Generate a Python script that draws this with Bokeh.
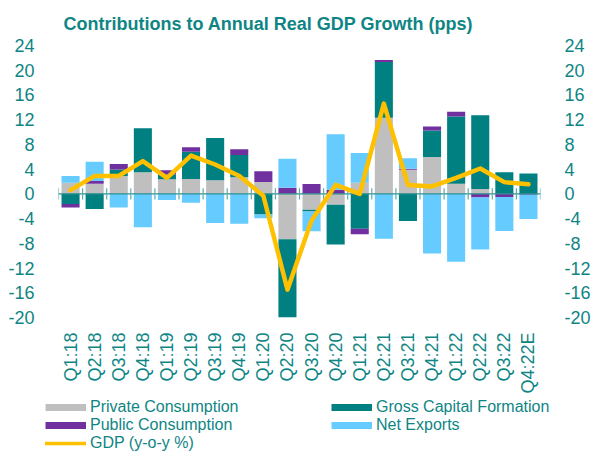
import math
import numpy as np
from bokeh.plotting import figure
from bokeh.layouts import column
from bokeh.models import (Range1d, LinearAxis, FixedTicker, Legend, LegendItem,
                          ColumnDataSource)
from bokeh.embed import file_html
from bokeh.resources import INLINE

# ---------------- data ----------------
quarters = ["Q1:18", "Q2:18", "Q3:18", "Q4:18", "Q1:19", "Q2:19", "Q3:19", "Q4:19",
            "Q1:20", "Q2:20", "Q3:20", "Q4:20", "Q1:21", "Q2:21", "Q3:21", "Q4:21",
            "Q1:22", "Q2:22", "Q3:22", "Q4:22E"]
private_consumption = [1.8, 1.65, 2.9, 3.5, 2.35, 2.4, 2.2, 2.7, 1.9, -7.35,
                       -2.55, -1.75, 1.8, 12.3, 3.9, 5.95, 1.65, 0.8, 0.0, 0.0]
gross_capital_formation = [-1.65, -2.45, 1.05, 7.1, 0.8, 4.4, 6.85, 3.6, -3.35, -12.65,
                           -0.3, -6.45, -5.65, 9.05, -4.4, 4.3, 10.85, 11.9, 3.5, 3.3]
public_consumption = [-0.55, 0.45, 0.9, 0.0, 0.65, 0.75, 0.0, 0.9, 1.75, 1.0,
                      1.6, 0.65, -0.9, 0.3, 0.15, 0.65, 0.8, -0.6, -0.5, -0.15]
net_exports = [1.1, 3.1, -2.2, -5.4, -1.0, -1.45, -4.7, -4.85, -0.6, 4.7,
               -3.2, 9.0, 4.8, -7.25, 1.7, -9.65, -11.0, -8.4, -5.5, -3.9]
gdp_yoy = [0.6, 2.9, 2.9, 5.3, 2.6, 6.2, 4.75, 2.9, -0.3, -15.5,
           -4.3, 1.45, 0.0, 14.6, 1.45, 1.2, 2.6, 4.1, 1.9, 1.55]
y_ticks = [-20, -16, -12, -8, -4, 0, 4, 8, 12, 16, 20, 24]
y_tick_labels = [str(t) for t in y_ticks]

series_names = ["Private Consumption", "Gross Capital Formation",
                "Public Consumption", "Net Exports"]
series_values = [private_consumption, gross_capital_formation,
                 public_consumption, net_exports]
gdp_name = "GDP (y-o-y %)"

# ---------------- style ----------------
TEXT = "#0E8584"
COLORS = ["#BFBFBF", "#008080", "#7030A0", "#66CCFF"]
GOLD = "#FFC000"
FONT = "Liberation Sans"

n = len(quarters)
xs = np.arange(n)

p = figure(width=593, height=396, output_backend="svg", toolbar_location=None,
           x_range=Range1d(-0.5, n - 0.5), y_range=Range1d(y_ticks[0], y_ticks[-1]),
           min_border_left=58, min_border_right=50, min_border_top=43,
           min_border_bottom=79)
p.background_fill_color = "white"
p.border_fill_color = "white"
p.outline_line_color = None
p.grid.visible = False

p.title.text = "Contributions to Annual Real GDP Growth (pps)"
p.title.text_font = FONT
p.title.text_font_size = "18px"
p.title.text_font_style = "bold"
p.title.text_color = TEXT
p.title.align = "left"
p.title.offset = 5
p.title.standoff = 23

# stacked bars (positives stack up, negatives stack down)
pos_base = np.zeros(n)
neg_base = np.zeros(n)
for name, vals, col in zip(series_names, series_values, COLORS):
    v = np.array(vals, dtype=float)
    bottom = np.where(v >= 0, pos_base, neg_base)
    top = bottom + v
    pos_base = np.where(v >= 0, top, pos_base)
    neg_base = np.where(v < 0, top, neg_base)
    src = ColumnDataSource(dict(x=xs, bottom=bottom, top=top))
    p.vbar(x="x", bottom="bottom", top="top", width=0.75, source=src,
           fill_color=col, line_color=None)

# zero axis line with category-boundary ticks
bounds = np.arange(n + 1) - 0.5
p.line(x=[bounds[0], bounds[-1]], y=[0, 0], line_color="#2A8E8E", line_width=1.2)
p.segment(x0=bounds, x1=bounds, y0=np.full(n + 1, -0.9), y1=np.full(n + 1, 0.9),
          line_color="#5AAEAE", line_width=1.2)

# GDP line
p.line(x=xs, y=gdp_yoy, line_color=GOLD, line_width=4.5, line_join="round",
       line_cap="round")

# axes
p.xaxis.ticker = FixedTicker(ticks=list(range(n)))
p.xaxis.major_label_overrides = {i: q for i, q in enumerate(quarters)}
p.xaxis.major_label_orientation = math.pi / 2
p.xaxis.axis_line_color = None
p.xaxis.major_tick_line_color = None
p.xaxis.minor_tick_line_color = None
p.xaxis.major_label_standoff = 9
p.xaxis.major_label_text_font = FONT
p.xaxis.major_label_text_font_size = "18px"
p.xaxis.major_label_text_color = TEXT

right_axis = LinearAxis()
p.add_layout(right_axis, "right")
for ax, standoff in ((p.yaxis[0], 18), (right_axis, 18)):
    ax.ticker = FixedTicker(ticks=y_ticks)
    ax.major_label_overrides = dict(zip(y_ticks, y_tick_labels))
    ax.axis_line_color = None
    ax.major_tick_line_color = None
    ax.minor_tick_line_color = None
    ax.major_label_standoff = standoff
    ax.major_label_text_font = FONT
    ax.major_label_text_font_size = "18px"
    ax.major_label_text_color = TEXT

# ---------------- legend strip ----------------
lg = figure(width=593, height=56, output_backend="svg", toolbar_location=None,
            x_range=Range1d(0, 1), y_range=Range1d(0, 1),
            x_axis_location=None, y_axis_location=None,
            min_border_left=0, min_border_right=0, min_border_top=0,
            min_border_bottom=0)
lg.outline_line_color = None
lg.grid.visible = False
lg.background_fill_color = "white"
lg.border_fill_color = "white"
for fig in (p, lg):
    try:
        fig.frame_align = False
    except Exception:
        pass

proxies = {}
for name, col in zip(series_names, COLORS):
    proxies[name] = lg.line(x=[np.nan], y=[np.nan], line_color=col, line_width=7,
                            line_cap="butt")
proxies[gdp_name] = lg.line(x=[np.nan], y=[np.nan], line_color=GOLD, line_width=3.5,
                            line_cap="round")

def make_legend(names, loc):
    return Legend(items=[LegendItem(label=nm, renderers=[proxies[nm]]) for nm in names],
                  location=loc, orientation="vertical",
                  glyph_width=41, glyph_height=18, label_height=18,
                  label_standoff=4, spacing=0, padding=0, margin=0,
                  border_line_color=None, background_fill_alpha=0,
                  label_text_font=FONT, label_text_font_size="16px",
                  label_text_color=TEXT)

lg.add_layout(make_legend([series_names[0], series_names[2], gdp_name], (45, 0)), "center")
lg.add_layout(make_legend([series_names[1], series_names[3]], (331, 18)), "center")

layout = column(p, lg, spacing=0)
open("out.html", "w").write(file_html(layout, INLINE))
